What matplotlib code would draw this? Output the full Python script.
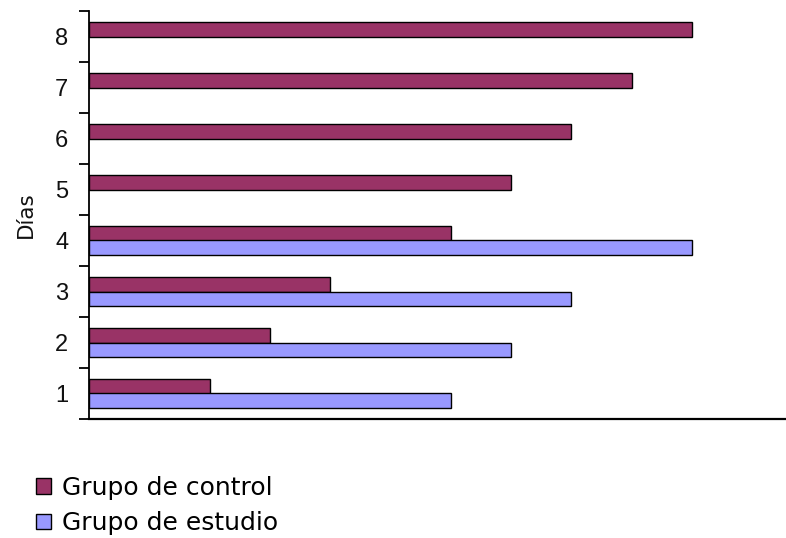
import matplotlib
matplotlib.use("Agg")
import matplotlib.pyplot as plt
import numpy as np
from matplotlib.patches import Patch

dias = ["1", "2", "3", "4", "5", "6", "7", "8"]
control = [2, 3, 4, 6, 7, 8, 9, 10]
estudio = [6, 7, 8, 10, 0, 0, 0, 0]

c_control = "#993366"
c_estudio = "#9999FF"

fig = plt.figure(figsize=(7.86, 5.38), dpi=100)
ax = fig.add_axes([89/786, 1 - 419/538, 1 - 89/786, 408/538])

y = np.arange(len(dias))
h = 0.285
ctrl = np.array(control, dtype=float)
est = np.array(estudio, dtype=float)
mc = ctrl > 0
me = est > 0
ax.barh(y[mc] + h/2, ctrl[mc], height=h, color=c_control, edgecolor="black", linewidth=1)
ax.barh(y[me] - h/2, est[me], height=h, color=c_estudio, edgecolor="black", linewidth=1)

ax.set_ylim(-0.5, len(dias) - 0.5)
ax.set_xlim(0, 11.56)
ax.set_yticks(y)
ax.set_yticklabels(dias, fontsize=17, family="Liberation Sans", color="#111111")
ax.tick_params(axis="y", which="major", length=0, pad=15)
ax.set_yticks(np.arange(-0.5, len(dias), 1), minor=True)
ax.tick_params(axis="y", which="minor", length=7, width=1.3, direction="out")
ax.set_xticks([])
for s in ["top", "right"]:
    ax.spines[s].set_visible(False)
ax.spines["left"].set_linewidth(1.3)
ax.spines["bottom"].set_linewidth(1.6)
ax.set_ylabel("Días", fontsize=15.5, family="DejaVu Sans", labelpad=14, color="#111111")

handles = [Patch(facecolor=c_control, edgecolor="black", label="Grupo de control"),
           Patch(facecolor=c_estudio, edgecolor="black", label="Grupo de estudio")]
fig.legend(handles=handles, loc="upper left", bbox_to_anchor=(36/786, 1 - 476/538),
           frameon=False, handlelength=0.6, handleheight=0.6,
           handletextpad=0.42, labelspacing=0.45, borderaxespad=0, borderpad=0,
           prop={"family": "DejaVu Sans", "size": 18})

fig.savefig("out.png", dpi=100)
